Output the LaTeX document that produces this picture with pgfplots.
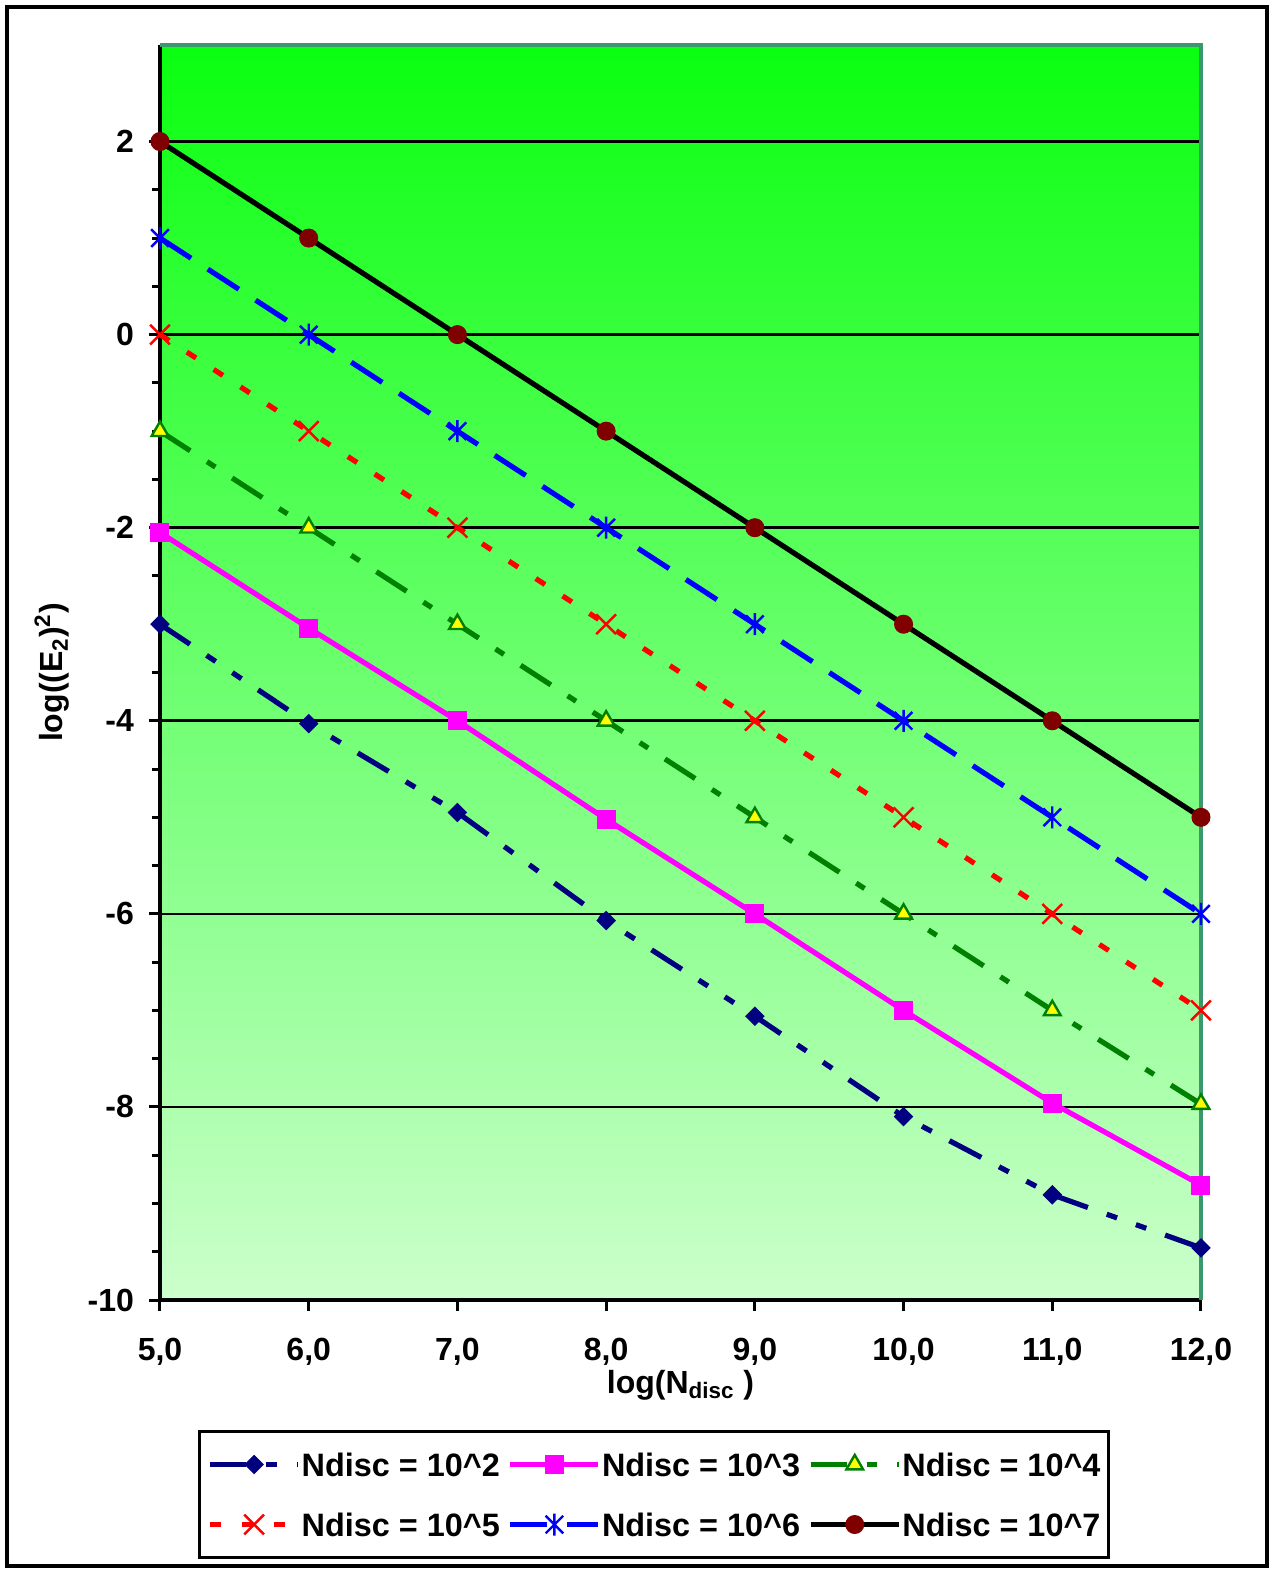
\documentclass[border=0pt]{standalone}
\usepackage{fontspec}
\setmainfont{Liberation Sans}
\usepackage{pgfplots}
\pgfplotsset{compat=1.18}
\definecolor{gtop}{RGB}{10,255,16}
\definecolor{gbot}{RGB}{204,255,204}
\definecolor{sea}{RGB}{58,152,108}
\definecolor{navyc}{RGB}{0,0,128}
\definecolor{maroonc}{RGB}{128,0,0}
\definecolor{dgreen}{RGB}{0,128,0}
\definecolor{magc}{RGB}{255,0,255}
\definecolor{redc}{RGB}{255,0,0}
\definecolor{bluec}{RGB}{0,0,255}
\definecolor{yelc}{RGB}{255,255,0}
\pgfdeclareplotmark{xstar}{%
  \pgfpathmoveto{\pgfpoint{0pt}{\pgfplotmarksize}}%
  \pgfpathlineto{\pgfpoint{0pt}{-\pgfplotmarksize}}%
  \pgfpathmoveto{\pgfpoint{-0.8\pgfplotmarksize}{-0.8\pgfplotmarksize}}%
  \pgfpathlineto{\pgfpoint{0.8\pgfplotmarksize}{0.8\pgfplotmarksize}}%
  \pgfpathmoveto{\pgfpoint{-0.8\pgfplotmarksize}{0.8\pgfplotmarksize}}%
  \pgfpathlineto{\pgfpoint{0.8\pgfplotmarksize}{-0.8\pgfplotmarksize}}%
  \pgfusepathqstroke}
\begin{document}
\begin{tikzpicture}
\useasboundingbox (0,0) rectangle (636.5pt,785.5pt);
\draw[line width=2pt] (3.5pt,2.5pt) rectangle (633.5pt,782pt);
\begin{axis}[
  name=ax,
  at={(80pt,135.5pt)}, anchor=south west,
  scale only axis, width=520.5pt, height=627.5pt,
  xmin=5, xmax=12, ymin=-10, ymax=3,
  clip=false,
  axis background/.style={shade, top color=gtop, bottom color=gbot},
  axis lines=left,
  axis line style={-, black, line width=2pt},
  xtick={5,6,7,8,9,10,11,12},
  xticklabels={{5,0},{6,0},{7,0},{8,0},{9,0},{10,0},{11,0},{12,0}},
  ytick={-10,-8,-6,-4,-2,0,2},
  yticklabels={-10,-8,-6,-4,-2,0,2},
  minor y tick num=3,
  tick align=outside,
  major tick length=5.5pt, minor tick length=4pt,
  tick style={black, line width=1.5pt},
  ymajorgrids,
  major grid style={black, line width=1.3pt},
  tick label style={font=\fontsize{16}{19}\selectfont\bfseries},
  xticklabel style={yshift=-10pt},
  yticklabel style={xshift=-4pt},
  xlabel={log(N\textsubscript{disc} )},
  ylabel={log((E\textsubscript{2})\textsuperscript{2})},
  label style={font=\fontsize{16}{19}\selectfont\bfseries},
  xlabel style={at={(axis description cs:0.5,-0.068)}, anchor=center},
  ylabel style={at={(axis description cs:-0.1037,0.5)}, anchor=center, rotate=0},
  legend columns=3,
  legend cell align=left,
  legend style={at={(axis description cs:0.0365,-0.1036)}, anchor=north west,
    draw=black, line width=1.5pt, fill=white, inner xsep=4pt, inner ysep=10.5pt,
    row sep=18pt, font=\fontsize{16.2}{19}\selectfont\bfseries,
    nodes={inner sep=0pt, text height=12pt, text depth=0pt, anchor=west},
    /tikz/every odd column/.append style={column sep=0.5pt},
    /tikz/every even column/.append style={column sep=4pt}},
  legend image code/.code={\draw[#1, mark repeat=2, mark phase=2] plot coordinates {(0pt,0pt) (22pt,0pt) (44pt,0pt)};},
]
\draw[sea, line width=2pt] (rel axis cs:0,1) -- (rel axis cs:1,1) -- (rel axis cs:1,0);
\addplot[navyc, line width=2.6pt, dash pattern=on 18pt off 10pt on 5.5pt off 10pt on 5.5pt off 10pt,
  mark=square*, mark size=3.2pt, mark options={solid, rotate=45, fill=navyc, line width=0.5pt}]
  coordinates {(5,-3) (6,-4.03) (7,-4.95) (8,-6.07) (9,-7.06) (10,-8.10) (11,-8.91) (12,-9.46)};
\addlegendentry{Ndisc = 10\string^2}
\addplot[magc, line width=2.6pt, mark=square*, mark size=4.5pt, mark options={solid, fill=magc, line width=0.5pt}]
  coordinates {(5,-2.05) (6,-3.04) (7,-4.0) (8,-5.02) (9,-6.0) (10,-7.0) (11,-7.96) (12,-8.81)};
\addlegendentry{Ndisc = 10\string^3}
\addplot[dgreen, line width=2.6pt, dash pattern=on 18pt off 10pt on 5pt off 10pt,
  mark=triangle*, mark size=4.8pt, mark options={solid, fill=yelc, draw=dgreen, line width=1.2pt}]
  coordinates {(5,-1) (6,-2) (7,-3) (8,-4) (9,-5) (10,-6) (11,-7) (12,-7.97)};
\addlegendentry{Ndisc = 10\string^4}
\addplot[redc, line width=2.6pt, dash pattern=on 5.5pt off 10.5pt,
  mark=x, mark size=7pt, mark options={solid, line width=1.2pt}]
  coordinates {(5,0) (6,-1) (7,-2) (8,-3) (9,-4) (10,-5) (11,-6) (12,-7)};
\addlegendentry{Ndisc = 10\string^5}
\addplot[bluec, line width=2.6pt, dash pattern=on 18.5pt off 10pt,
  mark=xstar, mark size=5.5pt, mark options={solid, line width=1.2pt}]
  coordinates {(5,1) (6,0) (7,-1) (8,-2) (9,-3) (10,-4) (11,-5) (12,-6)};
\addlegendentry{Ndisc = 10\string^6}
\addplot[black, line width=2.6pt, mark=*, mark size=4.5pt, mark options={solid, fill=maroonc, draw=maroonc, line width=0.5pt}]
  coordinates {(5,2) (6,1) (7,0) (8,-1) (9,-2) (10,-3) (11,-4) (12,-5)};
\addlegendentry{Ndisc = 10\string^7}
\end{axis}
\end{tikzpicture}
\end{document}
